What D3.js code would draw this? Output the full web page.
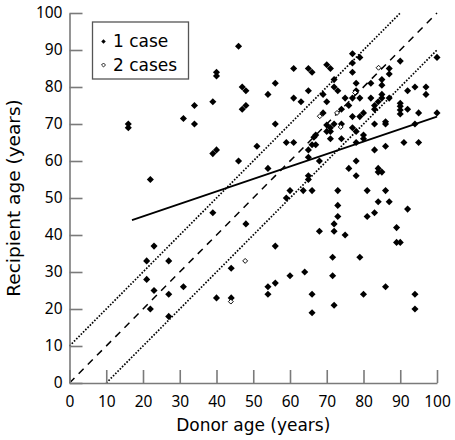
<!DOCTYPE html>
<html><head><meta charset="utf-8">
<script src="https://cdn.jsdelivr.net/npm/d3@7"></script>
<style>
html,body{margin:0;padding:0;background:#fff;}
svg{display:block;}
</style></head>
<body>
<svg id="chart" width="455" height="440"></svg>
<script>
// ---- data ----
const oneCaseX = [16,16,31,34,22,23,21,27,21,23,27,31,22,27,46,40,40,47,48,54,56,61,65,65,61,63,39,34,47,48,56,39,40,51,59,61,65,65,46,54,65,65,60,63.6,59,39,48,56,44,40,44,54,54,56,60,64,
  89,90,71.6,79,71.6,66,80,86,94,66,72,94,66,73,81,86,84,87,73,92,73,81,83,72,72,68,75,89,68,78,76,78,84,84,85,83,86,91,95,78,71,74,66,67,67,66.5,80,80,71,70,77,78,72,74,83,86,86,94,70,71,
  77,79,80,69,83,83,90,90,90,90,92,95,100,70,84,76,74,75,77,79,82,85,85,87,92,94,97,97,69,72,73,78,72,78,82,85,85,77,79,90,100,66,70,71,77,77,87,87];
const oneCaseY = [70,69,71.5,70,55,37,33,33,28,25,24,26,20,18,91,84,83,80,79,78,81,85,85,79,77,76,76,75,74,75,70,62,63,64,65,65,63,61,60,58,56,55,52,52,50,46,43,37,31,23,23,26,24,27,29,30,
  38,38,34,34,29,24,24,26,24,19,21,20,52,52,52,52,49,49,48,47,45,45,46,43,41,41,40,42,60,60,58,56,58,57,57,63,64,65,65,65,66,66,64.4,64.4,67,66.4,67,66,68,68,69,68,70,70,70,70.6,70,70,69.7,69,
  72,72,73,73,75,74,75.6,74.8,73.8,72.7,74,73,73,76,76,75,74,77,77,77,77,78,77,77,79,80,80,78,78,80,79,79,82,81,81,82,80.5,89,88,87,88,84,86,85,86.5,84,85,83.5];
const twoCasesX = [47.8,43.9,84.1,77.7,72.8,68.1,73.8];
const twoCasesY = [33,22,85.2,78.5,73,72.1,69.2];
const regressionX = [17,100];
const regressionY = [44,72];
const identityX = [0,100];
const upperX = [0,90];
const lowerX = [10,100];
const xTicks = [0,10,20,30,40,50,60,70,80,90,100];
const yTicks = [0,10,20,30,40,50,60,70,80,90,100];
const legendLabels = ["1 case","2 cases"];
const xTitle = "Donor age (years)";
const yTitle = "Recipient age (years)";

// ---- chart ----
const svg = d3.select("#chart");
const x = d3.scaleLinear().domain([0,100]).range([69.5,437]);
const y = d3.scaleLinear().domain([0,100]).range([383,13]);
const axisColor = "#7a7a7a";
const tickFont = "'Noto Sans', sans-serif";
const titleFont = "'DejaVu Sans', sans-serif";

// reference lines
const line = d3.line().x(d=>x(d[0])).y(d=>y(d[1]));
svg.append("path").attr("d", line(identityX.map(v=>[v,v])))
  .attr("stroke","#000").attr("stroke-width",1.5).attr("stroke-dasharray","7,6").attr("fill","none");
svg.append("path").attr("d", line(upperX.map(v=>[v,v+10])))
  .attr("stroke","#000").attr("stroke-width",1.7).attr("stroke-dasharray","1.6,1.6").attr("fill","none");
svg.append("path").attr("d", line(lowerX.map(v=>[v,v-10])))
  .attr("stroke","#000").attr("stroke-width",1.7).attr("stroke-dasharray","1.6,1.6").attr("fill","none");
svg.append("path").attr("d", line(regressionX.map((v,i)=>[v,regressionY[i]])))
  .attr("stroke","#000").attr("stroke-width",1.8).attr("fill","none");

// points
const diamond = d3.symbol().type(d3.symbolSquare).size(25);
const diamondOpen = d3.symbol().type(d3.symbolSquare).size(12);
svg.append("g").selectAll("path").data(oneCaseX.map((v,i)=>[v,oneCaseY[i]])).join("path")
  .attr("d", diamond).attr("transform", d=>`translate(${x(d[0])},${y(d[1])}) rotate(45)`)
  .attr("fill","#000");
svg.append("g").selectAll("path").data(twoCasesX.map((v,i)=>[v,twoCasesY[i]])).join("path")
  .attr("d", diamondOpen).attr("transform", d=>`translate(${x(d[0])},${y(d[1])}) rotate(45)`)
  .attr("fill","#fff").attr("stroke","#000").attr("stroke-width",0.9);

// axes
const xAxis = svg.append("g").attr("transform",`translate(0,${y(0)})`)
  .call(d3.axisBottom(x).tickValues(xTicks).tickSizeInner(-13).tickSizeOuter(0).tickPadding(20));
const yAxis = svg.append("g").attr("transform",`translate(${x(0)},0)`)
  .call(d3.axisLeft(y).tickValues(yTicks).tickSizeInner(-13).tickSizeOuter(0).tickPadding(7));
[xAxis,yAxis].forEach(g=>{
  g.select(".domain").attr("stroke",axisColor).attr("stroke-width",1.6);
  g.selectAll(".tick line").attr("stroke",axisColor).attr("stroke-width",1.6);
  g.selectAll(".tick text").attr("fill","#000").style("font-family",tickFont).style("font-size","15.5px");
});
xAxis.selectAll(".tick text").attr("y",13).attr("dy","0.71em");
yAxis.selectAll(".tick text").attr("x",-7);

// titles
svg.append("text").attr("x",(x(0)+x(100))/2).attr("y",431).attr("text-anchor","middle")
  .style("font-family",titleFont).style("font-size","17px").attr("fill","#000").text(xTitle);
svg.append("text").attr("transform",`translate(20,${(y(0)+y(100))/2}) rotate(-90)`).attr("text-anchor","middle")
  .style("font-family",titleFont).style("font-size","18.5px").attr("fill","#000").text(yTitle);

// legend
const lg = svg.append("g");
lg.append("rect").attr("x",92.5).attr("y",22).attr("width",96).attr("height",57)
  .attr("fill","#fff").attr("stroke","#555").attr("stroke-width",1.3);
const legSym = [d3.symbol().type(d3.symbolSquare).size(10), d3.symbol().type(d3.symbolSquare).size(8)];
legendLabels.forEach((t,i)=>{
  const cy = 41.5 + i*23.5;
  lg.append("path").attr("d",legSym[i]).attr("transform",`translate(103.5,${cy}) rotate(45)`)
    .attr("fill", i===0?"#000":"#fff").attr("stroke", i===0?"none":"#000").attr("stroke-width",0.8);
  lg.append("text").attr("x",113).attr("y",cy+5.5).style("font-family",titleFont).style("font-size","17px")
    .attr("fill","#000").text(t);
});
</script>
</body></html>
